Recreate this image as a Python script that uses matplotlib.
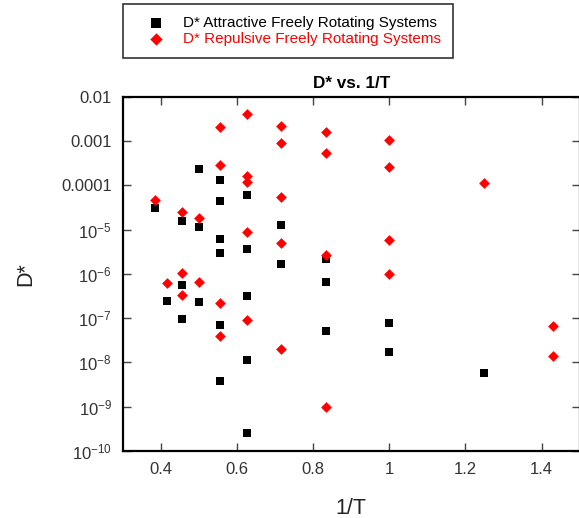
import matplotlib
matplotlib.use("Agg")
import matplotlib.pyplot as plt
from matplotlib.ticker import FixedLocator, FixedFormatter

plt.rcParams['font.family'] = ['Liberation Sans', 'DejaVu Sans']

# Attractive (black squares)
att_x = [0.385, 0.4167, 0.4545, 0.4545, 0.4545, 0.5, 0.5, 0.5,
         0.5556, 0.5556, 0.5556, 0.5556, 0.5556, 0.5556,
         0.625, 0.625, 0.625, 0.625, 0.625,
         0.714, 0.714, 0.833, 0.833, 0.833, 1.0, 1.0, 1.25]
att_y = [3.1e-5, 2.5e-7, 1.6e-5, 5.6e-7, 9.8e-8, 2.3e-4, 1.17e-5, 2.35e-7,
         1.32e-4, 4.5e-5, 6.2e-6, 3.0e-6, 7.1e-8, 3.9e-9,
         5.9e-5, 3.7e-6, 3.2e-7, 1.15e-8, 2.6e-10,
         1.24e-5, 1.7e-6, 2.2e-6, 6.6e-7, 5.1e-8, 7.6e-8, 1.74e-8, 5.7e-9]

# Repulsive (red diamonds)
rep_x = [0.385, 0.4167, 0.4545, 0.4545, 0.4545, 0.5, 0.5,
         0.5556, 0.5556, 0.5556, 0.5556,
         0.625, 0.625, 0.625, 0.625, 0.625,
         0.714, 0.714, 0.714, 0.714, 0.714,
         0.833, 0.833, 0.833, 0.833,
         1.0, 1.0, 1.0, 1.0, 1.25, 1.429, 1.429]
rep_y = [4.7e-5, 6.2e-7, 2.5e-5, 1.07e-6, 3.3e-7, 1.85e-5, 6.6e-7,
         2.07e-3, 2.9e-4, 2.2e-7, 3.9e-8,
         4.0e-3, 1.6e-4, 1.2e-4, 8.9e-6, 9.1e-8,
         2.2e-3, 8.9e-4, 5.5e-5, 4.9e-6, 2.0e-8,
         1.6e-3, 5.3e-4, 2.7e-6, 1.0e-9,
         1.05e-3, 2.6e-4, 5.7e-6, 9.8e-7, 1.13e-4, 6.6e-8, 1.4e-8]

x_ticks = [0.4, 0.6, 0.8, 1.0, 1.2, 1.4]
x_tick_labels = ['0.4', '0.6', '0.8', '1', '1.2', '1.4']
y_ticks = [1e-10, 1e-9, 1e-8, 1e-7, 1e-6, 1e-5, 1e-4, 1e-3, 1e-2]
y_tick_labels = [r'10$^{-10}$', r'10$^{-9}$', r'10$^{-8}$', r'10$^{-7}$',
                 r'10$^{-6}$', r'10$^{-5}$', '0.0001', '0.001', '0.01']

plt.rcParams['mathtext.fontset'] = 'custom'
plt.rcParams['mathtext.rm'] = 'Liberation Sans'
plt.rcParams['mathtext.it'] = 'Liberation Sans'
plt.rcParams['mathtext.default'] = 'regular'

fig = plt.figure(figsize=(5.79, 5.18), dpi=100)
ax = fig.add_axes([0.2124, 0.1293, 0.7886, 0.684])

ax.scatter(att_x, att_y, marker='s', s=37, color='black', linewidths=0,
           label='D* Attractive Freely Rotating Systems', zorder=3)
ax.scatter(rep_x, rep_y, marker='D', s=30, color='red', linewidths=0,
           label='D* Repulsive Freely Rotating Systems', zorder=4)

ax.set_yscale('log')
ax.set_xlim(0.3, 1.5)
ax.set_ylim(1e-10, 1e-2)
ax.xaxis.set_major_locator(FixedLocator(x_ticks))
ax.xaxis.set_major_formatter(FixedFormatter(x_tick_labels))
ax.yaxis.set_major_locator(FixedLocator(y_ticks))
ax.yaxis.set_major_formatter(FixedFormatter(y_tick_labels))
ax.yaxis.set_minor_locator(FixedLocator([]))
ax.tick_params(which='major', direction='in', top=True, right=True,
               length=6, width=1, color='#444444', labelsize=12,
               labelcolor='#333333', pad=8)
for sp in ax.spines.values():
    sp.set_linewidth(1.6)
    sp.set_color('black')

ax.set_xlabel('1/T', fontsize=15.5, color='#222222', labelpad=15)
ax.set_ylabel('D*', fontsize=15.5, color='#222222', labelpad=18)
ax.set_title('D* vs. 1/T', fontsize=12.3, fontweight='bold', pad=6)

leg = fig.legend(loc='upper left', bbox_to_anchor=(123/579, 1 - 4/518),
                 frameon=True, fancybox=False, edgecolor='black',
                 fontsize=11, handletextpad=0.38, borderpad=0.8,
                 labelspacing=0.12, handlelength=2.72, borderaxespad=0,
                 markerscale=1.15)
leg.get_frame().set_linewidth(1.2)
leg.get_texts()[1].set_color('red')

fig.savefig('out.png', dpi=100)
